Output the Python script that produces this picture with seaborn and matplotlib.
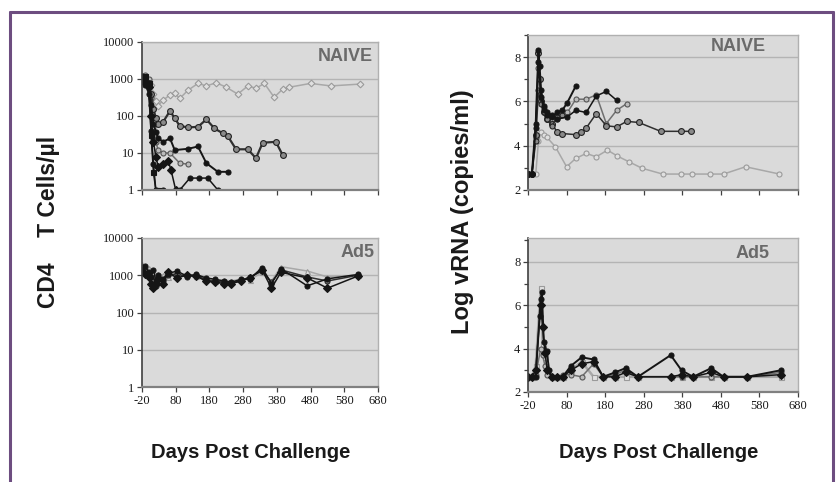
import matplotlib
matplotlib.use("Agg")
import matplotlib.pyplot as plt
import seaborn as sns
import pandas as pd
from matplotlib.lines import Line2D
from matplotlib.ticker import FixedLocator, FixedFormatter, NullLocator, MultipleLocator

# ---------------- data ----------------
x_ticks = [-20, 80, 180, 280, 380, 480, 580, 680]
cd4_ticks = [1, 10, 100, 1000, 10000]
cd4_tick_labels = ["1", "10", "100", "1000", "10000"]
vrna_ticks = [2, 4, 6, 8]

# NAIVE, CD4 counts
naive_cd4_days_1 = [-20, -10, 0, 7, 14, 21, 28, 43, 63, 77, 92, 117, 146, 171, 200, 230, 264, 294, 318, 343, 372, 397, 417, 480, 540, 628]
naive_cd4_vals_1 = [1000, 1100, 900, 700, 400, 260, 190, 270, 370, 410, 300, 500, 760, 650, 790, 600, 390, 650, 560, 760, 320, 530, 600, 760, 650, 730]
naive_cd4_days_2 = [-20, -10, 0, 7, 14, 21, 28, 43, 63, 77, 92, 117, 146, 171, 195, 220, 235, 259, 294, 318, 338, 377, 397]
naive_cd4_vals_2 = [1100, 900, 800, 400, 150, 90, 60, 70, 137, 87, 54, 49, 51, 81, 46, 34, 28, 12.6, 12.6, 7.2, 19, 20, 8.9]
naive_cd4_days_3 = [-20, -10, 0, 7, 14, 21, 28, 43, 63, 77, 117, 146, 171, 205, 235]
naive_cd4_vals_3 = [1200, 1000, 700, 200, 60, 38, 25, 20, 25, 12, 13, 15, 5.3, 3.1, 3.1]
naive_cd4_days_4 = [-20, -10, 0, 7, 14, 21, 28, 43, 63, 92, 116]
naive_cd4_vals_4 = [900, 1300, 1000, 300, 50, 20, 12, 10, 10, 5.3, 5]
naive_cd4_days_5 = [-20, -10, 0, 7, 14, 21, 28, 43, 58, 66, 80]
naive_cd4_vals_5 = [1000, 800, 600, 100, 20, 8, 4.3, 5, 6, 3.5, 1]
naive_cd4_days_6 = [-20, -10, 0, 7, 14, 21, 43, 92, 122, 148, 175, 205]
naive_cd4_vals_6 = [900, 700, 400, 40, 5, 1, 1, 1, 2.1, 2.1, 2.1, 1]
naive_cd4_days_7 = [-20, -10, 0, 7, 14, 21, 28]
naive_cd4_vals_7 = [1000, 1200, 800, 30, 3, 1, 1]

# Ad5, CD4 counts
ad5_cd4_days = [-20, -10, 0, 7, 14, 21, 28, 42, 56, 84, 112, 140, 170, 196, 224, 245, 274, 300, 336, 364, 392, 470, 530, 620]
ad5_cd4_vals_1 = [1500, 1800, 1200, 900, 1400, 700, 1000, 800, 1100, 1300, 950, 1050, 850, 780, 700, 650, 780, 800, 1600, 600, 1500, 520, 800, 1050]
ad5_cd4_vals_2 = [2000, 1500, 1600, 1100, 1200, 900, 1100, 1000, 900, 1000, 1100, 950, 800, 700, 750, 700, 800, 750, 1200, 700, 1700, 1300, 900, 1000]
ad5_cd4_vals_3 = [1300, 1100, 900, 600, 450, 600, 800, 600, 1200, 850, 1000, 950, 700, 650, 600, 600, 700, 850, 1400, 450, 1200, 850, 450, 950]
ad5_cd4_vals_4 = [1700, 1300, 1000, 800, 700, 500, 900, 700, 1000, 1100, 900, 1000, 750, 700, 650, 620, 720, 900, 1300, 650, 1400, 900, 700, 1000]

# NAIVE, log vRNA
naive_vl_days_1 = [-20, -10, 0, 7, 14, 21, 28, 51, 80, 104, 131, 157, 186, 212, 241, 276, 329, 377, 406, 452, 487, 544, 632]
naive_vl_vals_1 = [2.7, 2.7, 2.7, 4.2, 4.6, 4.5, 4.4, 3.95, 3.05, 3.43, 3.65, 3.5, 3.8, 3.53, 3.28, 2.98, 2.72, 2.72, 2.72, 2.72, 2.72, 3.05, 2.72]
naive_vl_days_2 = [-20, -10, 0, 7, 10, 14, 21, 28, 42, 56, 69, 104, 117, 131, 157, 183, 210, 236, 267, 324, 377, 403]
naive_vl_vals_2 = [2.7, 2.7, 4.5, 8.2, 7.0, 6.0, 5.5, 5.2, 5.0, 4.6, 4.55, 4.5, 4.6, 4.8, 5.45, 4.9, 4.85, 5.1, 5.05, 4.65, 4.65, 4.65]
naive_vl_days_3 = [-20, -10, 0, 7, 10, 14, 21, 28, 42, 56, 69, 82, 104]
naive_vl_vals_3 = [2.7, 2.7, 5.0, 8.3, 7.6, 6.5, 5.8, 5.4, 5.3, 5.5, 5.6, 5.95, 6.7]
naive_vl_days_4 = [-20, -10, 0, 7, 14, 21, 28, 42, 56, 82, 104, 131, 157, 183, 210, 236]
naive_vl_vals_4 = [2.7, 2.7, 4.4, 7.5, 6.0, 5.7, 5.3, 5.0, 5.2, 5.5, 6.1, 6.1, 6.3, 5.0, 5.6, 5.9]
naive_vl_days_5 = [-20, -10, 0, 7, 14, 21, 28, 42, 56, 82, 104, 131, 157, 183, 210]
naive_vl_vals_5 = [2.7, 2.7, 4.8, 7.8, 6.2, 5.6, 5.5, 5.4, 5.2, 5.3, 5.6, 5.5, 6.25, 6.45, 6.05]
naive_vl_days_6 = [-20, -10, 0, 7, 14, 21, 28, 42, 56, 69]
naive_vl_vals_6 = [2.7, 2.7, 4.2, 6.5, 5.9, 5.5, 5.2, 4.9, 5.3, 5.4]

# Ad5, log vRNA
ad5_vl_days_1 = [-20, -10, 0, 10, 13, 16, 21, 28, 35, 42, 56, 70, 91, 119, 150, 175, 205, 233, 265, 350, 378, 408, 455, 487, 548, 635]
ad5_vl_vals_1 = [2.7, 2.7, 2.7, 5.5, 6.3, 6.6, 4.3, 3.9, 3.0, 2.7, 2.7, 2.7, 3.2, 3.6, 3.5, 2.7, 2.9, 3.1, 2.7, 3.7, 3.0, 2.7, 3.1, 2.7, 2.7, 3.0]
ad5_vl_days = [-20, -10, 0, 13, 18, 24, 30, 42, 56, 70, 91, 119, 150, 175, 205, 233, 265, 350, 378, 408, 455, 487, 548, 635]
ad5_vl_vals_2 = [2.7, 2.7, 3.0, 6.0, 5.0, 3.8, 3.0, 2.7, 2.7, 2.7, 3.0, 3.3, 3.4, 2.7, 2.7, 2.9, 2.7, 2.7, 2.8, 2.7, 2.9, 2.7, 2.7, 2.8]
ad5_vl_vals_3 = [2.7, 2.7, 3.2, 6.8, 4.2, 3.6, 3.0, 2.7, 2.7, 2.7, 3.0, 3.4, 2.7, 2.7, 2.7, 2.7, 2.7, 2.7, 2.7, 2.7, 2.7, 2.7, 2.7, 2.7]
ad5_vl_vals_4 = [2.7, 2.7, 2.8, 4.0, 3.7, 3.2, 2.8, 2.7, 2.7, 2.8, 2.8, 2.7, 3.3, 2.7, 2.8, 3.0, 2.7, 2.7, 2.7, 2.7, 2.7, 2.7, 2.7, 2.9]

# ---------------- styles ----------------
LIGHT = dict(color="#a8a8a8", marker="o", markerfacecolor="#e0e0e0", markeredgecolor="#9a9a9a")
GREY = dict(color="#707070", marker="o", markerfacecolor="#bcbcbc", markeredgecolor="#555555")
DARKO = dict(color="#303030", marker="o", markerfacecolor="#8a8a8a", markeredgecolor="#222222")
BLACK = dict(color="#151515", marker="o", markerfacecolor="#151515", markeredgecolor="#151515")
BLACKD = dict(color="#151515", marker="D", markerfacecolor="#151515", markeredgecolor="#151515")

BG = "#dadada"
GRID = "#b4b4b4"
PURPLE = "#6d4d80"

sns.set_theme(style="ticks")
plt.rcParams["font.family"] = ["Liberation Sans", "DejaVu Sans"]

fig = plt.figure(figsize=(8.38, 4.82), dpi=100)
W, H = 838, 482


def box(l, t, r, b):
    return [l / W, 1 - b / H, (r - l) / W, (b - t) / H]


ax_nc = fig.add_axes(box(142, 42, 378, 190))
ax_ac = fig.add_axes(box(142, 238, 378, 387))
ax_nv = fig.add_axes(box(528, 35, 798, 190))
ax_av = fig.add_axes(box(528, 238, 798, 392))


def draw(ax, days, vals, style, lw=1.1, ms=3.6):
    df = pd.DataFrame({"day": days, "val": vals})
    sns.lineplot(data=df, x="day", y="val", ax=ax, estimator=None, sort=False,
                 linewidth=lw, markersize=ms, markeredgewidth=0.8, legend=False, **style)


def style_axes(ax, label, lx, ly, show_xlabels):
    ax.set_facecolor(BG)
    ax.set_xlim(-20, 680)
    ax.xaxis.set_major_locator(FixedLocator(x_ticks))
    if show_xlabels:
        ax.set_xticklabels([str(t) for t in x_ticks])
    else:
        ax.set_xticklabels([])
    for s in ["top", "right"]:
        ax.spines[s].set_color("#b0b0b0")
        ax.spines[s].set_linewidth(1.0)
    ax.spines["left"].set_color("#404040")
    ax.spines["left"].set_linewidth(1.2)
    ax.spines["bottom"].set_color("#808080")
    ax.spines["bottom"].set_linewidth(1.6)
    ax.tick_params(axis="both", direction="out", length=3.5, width=0.9, color="#404040",
                   labelsize=9, pad=2)
    for t in ax.get_xticklabels() + ax.get_yticklabels():
        t.set_family(["Liberation Serif", "DejaVu Serif"])
        t.set_color("#1a1a1a")
    ax.yaxis.grid(True, which="major", color=GRID, linewidth=1.0)
    ax.xaxis.grid(False)
    ax.set_axisbelow(True)
    ax.set_xlabel("")
    ax.set_ylabel("")
    ax.text(lx, ly, label, transform=ax.transAxes, ha="right", va="center",
            fontsize=13, color="#6a6a6a", fontweight="bold")


# CD4 NAIVE
draw(ax_nc, naive_cd4_days_1, naive_cd4_vals_1, dict(LIGHT, marker="D"), ms=3.4)
draw(ax_nc, naive_cd4_days_4, naive_cd4_vals_4, GREY)
draw(ax_nc, naive_cd4_days_2, naive_cd4_vals_2, DARKO, lw=1.6, ms=4.2)
draw(ax_nc, naive_cd4_days_3, naive_cd4_vals_3, BLACK, lw=1.4)
draw(ax_nc, naive_cd4_days_5, naive_cd4_vals_5, BLACKD)
draw(ax_nc, naive_cd4_days_6, naive_cd4_vals_6, BLACK)
draw(ax_nc, naive_cd4_days_7, naive_cd4_vals_7, dict(BLACK, marker="s"))

# CD4 Ad5
draw(ax_ac, ad5_cd4_days, ad5_cd4_vals_2, dict(LIGHT, marker="^"))
draw(ax_ac, ad5_cd4_days, ad5_cd4_vals_4, DARKO)
draw(ax_ac, ad5_cd4_days, ad5_cd4_vals_3, BLACKD)
draw(ax_ac, ad5_cd4_days, ad5_cd4_vals_1, BLACK)

for ax in (ax_nc, ax_ac):
    ax.set_yscale("log")
    ax.set_ylim(1, 10000)
    ax.yaxis.set_major_locator(FixedLocator(cd4_ticks))
    ax.yaxis.set_major_formatter(FixedFormatter(cd4_tick_labels))
    ax.yaxis.set_minor_locator(NullLocator())

# vRNA NAIVE
draw(ax_nv, naive_vl_days_1, naive_vl_vals_1, LIGHT)
draw(ax_nv, naive_vl_days_4, naive_vl_vals_4, GREY)
draw(ax_nv, naive_vl_days_2, naive_vl_vals_2, DARKO, ms=4.2)
draw(ax_nv, naive_vl_days_6, naive_vl_vals_6, DARKO)
draw(ax_nv, naive_vl_days_5, naive_vl_vals_5, BLACK)
draw(ax_nv, naive_vl_days_3, naive_vl_vals_3, BLACK, lw=1.4)

# vRNA Ad5
draw(ax_av, ad5_vl_days, ad5_vl_vals_3, dict(LIGHT, marker="s"), lw=1.8)
draw(ax_av, ad5_vl_days, ad5_vl_vals_4, GREY)
draw(ax_av, ad5_vl_days, ad5_vl_vals_2, BLACKD)
draw(ax_av, ad5_vl_days_1, ad5_vl_vals_1, BLACK, lw=1.4)

ax_nv.set_ylim(2, 9)
ax_av.set_ylim(2, 9.1)
for ax in (ax_nv, ax_av):
    ax.yaxis.set_major_locator(FixedLocator(vrna_ticks))
    ax.yaxis.set_minor_locator(MultipleLocator(1))
    ax.tick_params(axis="y", which="minor", direction="out", length=3, width=0.9, color="#404040")

style_axes(ax_nc, "NAIVE", 0.98, 0.90, False)
style_axes(ax_ac, "Ad5", 0.985, 0.905, True)
style_axes(ax_nv, "NAIVE", 0.88, 0.925, False)
style_axes(ax_av, "Ad5", 0.895, 0.90, True)

# axis titles
fig.text(48 / W, 1 - 222 / H, "CD4    T Cells/\u00b5l", rotation=90, ha="center", va="center",
         fontsize=16.5, fontweight="bold", color="#1a1a1a")
fig.text(462 / W, 1 - 212 / H, "Log vRNA (copies/ml)", rotation=90, ha="center", va="center",
         fontsize=17, fontweight="bold", color="#1a1a1a")
fig.text(251 / W, 1 - 452 / H, "Days Post Challenge", ha="center", va="center",
         fontsize=14.5, fontweight="bold", color="#1a1a1a")
fig.text(659 / W, 1 - 452 / H, "Days Post Challenge", ha="center", va="center",
         fontsize=14.5, fontweight="bold", color="#1a1a1a")

# purple frame around the figure
for xs, ys in [([10, 10], [482, 12]), ([833, 833], [482, 12]), ([10, 833], [12, 12])]:
    fig.add_artist(Line2D([x / W for x in xs], [1 - y / H for y in ys],
                          transform=fig.transFigure, color=PURPLE, linewidth=2.2))

fig.savefig("out.png", dpi=100, facecolor="white")
